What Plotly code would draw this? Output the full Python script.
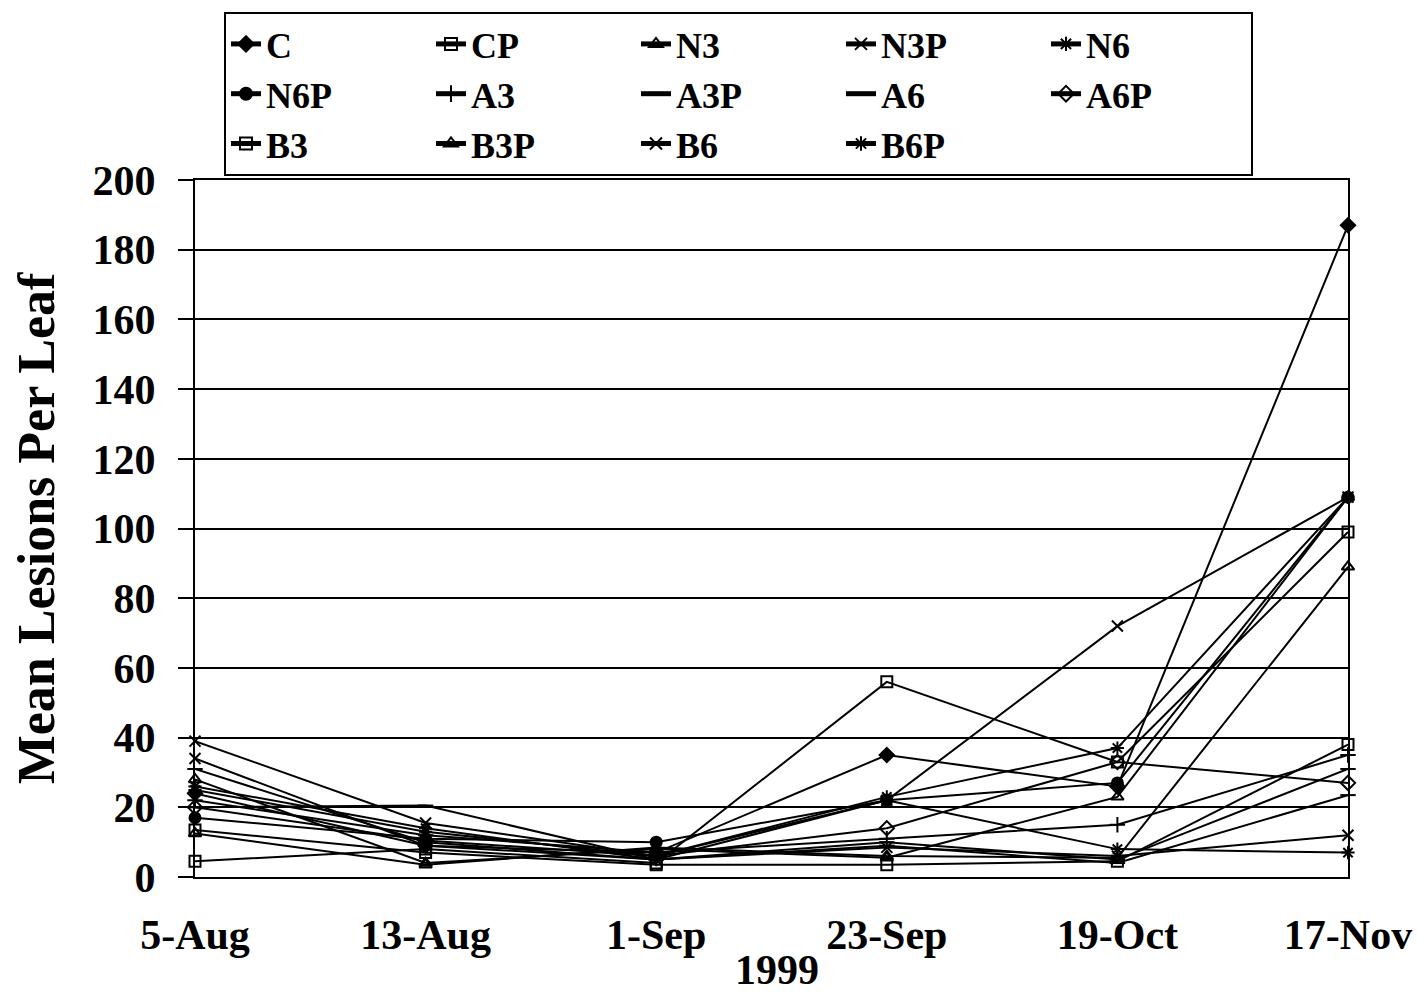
import plotly.graph_objects as go

dates = ["5-Aug", "13-Aug", "1-Sep", "23-Sep", "19-Oct", "17-Nov"]

C   = [24, 9, 7, 35, 26, 187]
CP  = [4.5, 8, 4, 56, 33, 99]
N3  = [28, 4, 8, 5.5, 23, 109]
N3P = [39, 15.5, 6, 22, 72, 109]
N6  = [25, 13, 6, 23, 37, 109]
N6P = [17, 11, 10, 22, 27, 109]
A3  = [22, 12, 7, 11, 15, 35]
A3P = [20, 20.5, 5, 10, 5, 31]
A6  = [31, 10, 5, 9, 4, 23.5]
A6P = [20, 10.5, 6, 14, 33, 27]
B3  = [13.5, 7, 3.5, 3.5, 4.5, 38]
B3P = [12.5, 3.5, 8.5, 6, 5.5, 89]
B6  = [34, 9, 5, 8.5, 6, 12]
B6P = [26, 14, 5, 22, 8, 7]

series = [
    ("C", C, "diamond"), ("CP", CP, "square-open"), ("N3", N3, "triangle-up-open"),
    ("N3P", N3P, "x-thin-open"), ("N6", N6, "asterisk-open"),
    ("N6P", N6P, "circle"), ("A3", A3, "cross-thin-open"), ("A3P", A3P, "line-ew-open"),
    ("A6", A6, "line-ew-open"), ("A6P", A6P, "diamond-open"),
    ("B3", B3, "square-open"), ("B3P", B3P, "triangle-up-open"), ("B6", B6, "x-thin-open"),
    ("B6P", B6P, "asterisk-open"),
]

fig = go.Figure()
for name, vals, sym in series:
    fig.add_trace(go.Scatter(
        x=dates, y=vals, name=name, mode="lines+markers",
        line=dict(color="black", width=2),
        marker=dict(symbol=sym, size=11, color="black",
                    line=dict(color="black", width=2)),
        cliponaxis=False,
    ))

font_family = "Liberation Serif"
W, H = 1418, 986
ml, mr, mt, mb = 187, 78, 172, 117
plot_h = H - mt - mb

fig.update_layout(
    width=W, height=H,
    margin=dict(l=ml, r=mr, t=mt, b=mb, autoexpand=False),
    plot_bgcolor="white", paper_bgcolor="white",
    font=dict(family=font_family, size=42, color="black", weight="bold"),
    showlegend=True,
    legend=dict(
        orientation="h", xref="container", yref="container",
        x=216 / W, y=1 - 4 / H,
        xanchor="left", yanchor="top",
        bordercolor="black", borderwidth=2, bgcolor="white",
        entrywidth=160, entrywidthmode="pixels",
        font=dict(family=font_family, size=36, color="black", weight="bold"),
        tracegroupgap=0, itemsizing="constant",
    ),
    xaxis=dict(
        type="category", range=[0, 5], showgrid=False,
        showline=True, linecolor="black", linewidth=2, mirror=True,
        ticks="", ticklabelstandoff=20,
        tickfont=dict(family=font_family, size=42, weight="bold"),
    ),
    yaxis=dict(
        range=[0, 200], tick0=0, dtick=20,
        showgrid=True, gridcolor="black", gridwidth=2,
        showline=True, linecolor="black", linewidth=2, mirror=True,
        ticks="outside", ticklen=15, tickwidth=2, tickcolor="black",
        ticklabelstandoff=14, zeroline=False,
        tickfont=dict(family=font_family, size=42, weight="bold"),
        title=dict(text="Mean Lesions Per Leaf", standoff=30,
                   font=dict(family=font_family, size=52, weight="bold")),
    ),
    annotations=[dict(
        text="1999", xref="paper", yref="paper", x=0.505, y=-(962 - 869) / plot_h,
        xanchor="center", yanchor="middle", showarrow=False,
        font=dict(family=font_family, size=42, weight="bold"),
    )],
)

fig.write_html("out.html")
